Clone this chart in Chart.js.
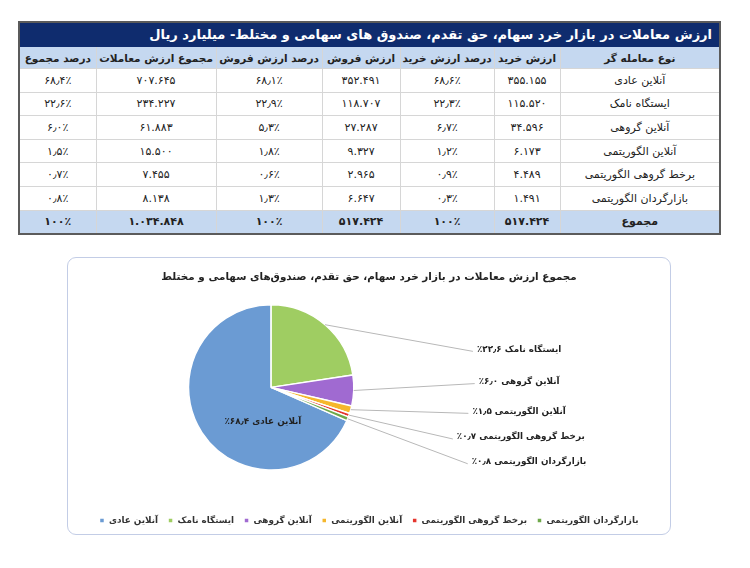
<!DOCTYPE html>
<html lang="fa">
<head>
<meta charset="utf-8">
<script src="https://cdn.jsdelivr.net/npm/chart.js@4.4.1/dist/chart.umd.min.js"></script>
<style>
  body { margin: 0; background: #fff; font-family: "DejaVu Sans", sans-serif; }
  #tbl {
    position: absolute; left: 18px; top: 21px; width: 701px;
    border-collapse: collapse; table-layout: fixed; direction: rtl;
    border: 2px solid #5b5b5b; font-size: 11px; color: #222;
  }
  #tbl td { border: 1px solid #d6d6d6; text-align: center; height: 22.6px; padding: 0; }
  #tbl tr.title td {
    background: #0f2c6e; color: #fff; font-weight: bold; font-size: 13px;
    text-align: right; padding-right: 7px; height: 23px; border-color: #0f2c6e;
  }
  #tbl tr.head td { background: #c5d8f0; font-weight: bold; font-size: 10.5px; height: 21px; }
  #tbl tr.sum td { background: #c5d8f0; font-weight: bold; }
  #tbl .num { direction: ltr; unicode-bidi: embed; }
  #box { position: absolute; left: 67px; top: 257px; width: 604px; height: 278px; }
  #frame {
    position: absolute; inset: 0; border: 1.5px solid #c3cde6; border-radius: 9px;
  }
  #pie { position: absolute; left: 0; top: 0; }
</style>
</head>
<body>
<table id="tbl">
  <colgroup>
    <col style="width:160px"><col style="width:66px"><col style="width:94px">
    <col style="width:78px"><col style="width:106px"><col style="width:120px"><col style="width:77px">
  </colgroup>
  <tbody id="tbody"></tbody>
</table>
<div id="box">
  <div id="frame"></div>
  <canvas id="pie" width="604" height="278"></canvas>
</div>
<script>
const tableTitle = 'ارزش معاملات در بازار خرد سهام، حق تقدم، صندوق های سهامی و مختلط- میلیارد ریال';
const chartTitle = 'مجموع ارزش معاملات در بازار خرد سهام، حق تقدم، صندوق‌های سهامی و مختلط';
const columnHeaders = ['نوع معامله گر', 'ارزش خرید', 'درصد ارزش خرید', 'ارزش فروش', 'درصد ارزش فروش', 'مجموع ارزش معاملات', 'درصد مجموع'];
const totalLabel = 'مجموع';

const traderTypes = ['آنلاین عادی', 'ایستگاه نامک', 'آنلاین گروهی', 'آنلاین الگوریتمی', 'برخط گروهی الگوریتمی', 'بازارگردان الگوریتمی'];
const buyValue = [355155, 115520, 34596, 6173, 4489, 1491];
const buyShare = [68.6, 22.3, 6.7, 1.2, 0.9, 0.3];
const sellValue = [352491, 118707, 27287, 9327, 2965, 6647];
const sellShare = [68.1, 22.9, 5.3, 1.8, 0.6, 1.3];
const totalValue = [707645, 234227, 61883, 15500, 7455, 8138];
const totalShare = [68.4, 22.6, 6.0, 1.5, 0.7, 0.8];

const sliceColors = ['#6b9bd3', '#9fcd62', '#a06ad1', '#f5b72c', '#e5352d', '#6ea84a'];
const FONT = '"DejaVu Sans", sans-serif';

// persian digits
const faDigits = s => String(s).replace(/\d/g, d => '۰۱۲۳۴۵۶۷۸۹'[d]);
const faInt = n => faDigits(String(n).replace(/\B(?=(\d{3})+(?!\d))/g, '#')).replace(/#/g, '.');
const faPct = v => faDigits(v.toFixed(1)).replace('.', '٫') + '٪';
const sum = a => a.reduce((s, v) => s + v, 0);

// table
const tbody = document.getElementById('tbody');
function addRow(cls, cells) {
  const tr = document.createElement('tr');
  if (cls) tr.className = cls;
  cells.forEach((c, i) => {
    const td = document.createElement('td');
    if (cls === 'title') td.colSpan = 7;
    if (i > 0 && cls !== 'head') {
      const sp = document.createElement('span');
      sp.className = 'num';
      sp.textContent = c;
      td.appendChild(sp);
    } else td.textContent = c;
    tr.appendChild(td);
  });
  tbody.appendChild(tr);
}
addRow('title', [tableTitle]);
addRow('head', columnHeaders);
traderTypes.forEach((t, i) => addRow('', [t, faInt(buyValue[i]), faPct(buyShare[i]), faInt(sellValue[i]),
  faPct(sellShare[i]), faInt(totalValue[i]), faPct(totalShare[i])]));
addRow('sum', [totalLabel, faInt(sum(buyValue)), '۱۰۰٪', faInt(sum(sellValue)), '۱۰۰٪', faInt(sum(totalValue)), '۱۰۰٪']);

// where the pie sits inside the canvas (fractions of canvas size)
const pieFrame = {
  id: 'pieFrame',
  afterLayout(chart) {
    const a = chart.chartArea;
    const r = chart.height * 0.3;
    const cx = chart.width * 0.338, cy = chart.height * 0.469;
    a.left = cx - r; a.right = cx + r; a.top = cy - r; a.bottom = cy + r;
    a.width = 2 * r; a.height = 2 * r;
  }
};

// label rows, in radius units from the centre; first slice is labelled inside
const labelRows = [{ dx: -0.1, dy: 0.41 }, { dx: 3, dy: -0.46 }, { dx: 3, dy: -0.07 },
  { dx: 3, dy: 0.29 }, { dx: 3.02, dy: 0.6 }, { dx: 3.12, dy: 0.9 }];

const pieLabels = {
  id: 'pieLabels',
  afterDatasetsDraw(chart) {
    const ctx = chart.ctx;
    const arcs = chart.getDatasetMeta(0).data;
    ctx.save();
    ctx.font = 'bold 8.8px ' + FONT;
    ctx.textBaseline = 'middle';
    ctx.textAlign = 'center';
    ctx.direction = 'rtl';
    arcs.forEach((arc, i) => {
      const { x, y, outerRadius: r, startAngle, endAngle } = arc.getProps(['x', 'y', 'outerRadius', 'startAngle', 'endAngle']);
      const text = traderTypes[i] + ' ' + faPct(totalShare[i]);
      const lx = x + labelRows[i].dx * r, ly = y + labelRows[i].dy * r;
      if (i > 0) {
        const mid = (startAngle + endAngle) / 2;
        const w = ctx.measureText(text).width;
        ctx.strokeStyle = '#b8b8b8';
        ctx.lineWidth = 1;
        ctx.beginPath();
        ctx.moveTo(x + Math.cos(mid) * r, y + Math.sin(mid) * r);
        ctx.lineTo(lx - w / 2 - 4, ly + 2);
        ctx.stroke();
      }
      ctx.fillStyle = '#222';
      ctx.fillText(text, lx, ly);
    });
    ctx.restore();
  }
};

new Chart(document.getElementById('pie'), {
  type: 'pie',
  data: {
    labels: traderTypes,
    datasets: [{
      data: totalShare,
      backgroundColor: sliceColors,
      borderColor: '#fff',
      borderWidth: 1.5
    }]
  },
  options: {
    responsive: false,
    animation: false,
    rotation: -totalShare[0] / sum(totalShare) * 360,
    plugins: {
      title: {
        display: true, text: chartTitle, color: '#222',
        font: { family: FONT, size: 10.4, weight: 'bold' },
        padding: { top: 14, bottom: 10 }
      },
      legend: {
        position: 'bottom',
        labels: {
          boxWidth: 5, boxHeight: 5, padding: 10, color: '#333',
          font: { family: FONT, size: 8.8, weight: 'bold' }
        }
      },
      tooltip: { enabled: false }
    }
  },
  plugins: [pieFrame, pieLabels]
});
</script>
</body>
</html>
